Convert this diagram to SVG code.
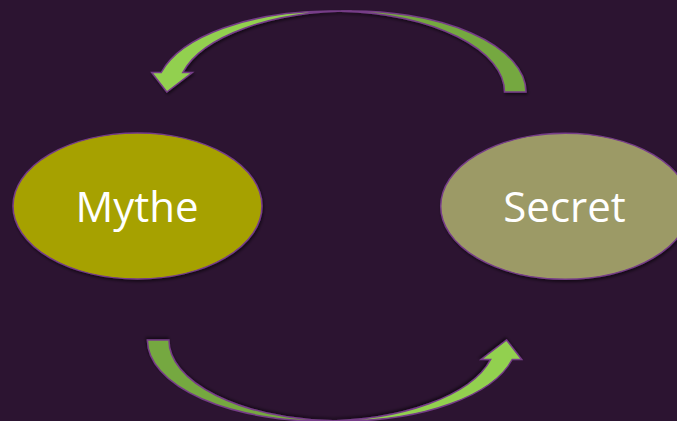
<svg xmlns="http://www.w3.org/2000/svg" xmlns:xlink="http://www.w3.org/1999/xlink" width="677" height="421" viewBox="0 0 677 421">
  <defs>
    <filter id="shadow" x="-10%" y="-10%" width="120%" height="130%">
      <feDropShadow dx="1" dy="2" stdDeviation="1.8" flood-color="#000000" flood-opacity="0.55"/>
    </filter>
    <g id="curved-arrow">
      <path class="arrow-back" d="M 341.05 11.15 A 174.2 81 0 0 1 504.5 92 L 526 92 A 174.2 81 0 0 0 341.05 11.15 Z"/>
      <path class="arrow-front" d="M 166.85 92 L 192.28 72.5 L 182.73 72.5 A 174.2 81 0 0 1 351.8 11 L 330.3 11 A 174.2 81 0 0 0 161.23 72.5 L 151.68 72.5 Z"/>
    </g>
  </defs>
  <style>
    .node-shape { stroke: #763D88; stroke-width: 1.5; filter: url(#shadow); }
    .label { font-family: "Open Sans", "Noto Sans", "Liberation Sans", sans-serif; font-size: 42px; fill: #FFFFFF; text-anchor: middle; }
    .arrow-front { fill: #92D050; stroke: #763D88; stroke-width: 1.5; stroke-linejoin: miter; }
    .arrow-back { fill: #74A83F; stroke: #763D88; stroke-width: 1.5; stroke-linejoin: miter; }
    .arrow { filter: url(#shadow); }
  </style>
  <rect x="0" y="0" width="677" height="421" fill="#2C1431"/>
  <g id="connectors">
    <use id="arrow-secret-to-mythe" class="arrow" xlink:href="#curved-arrow" href="#curved-arrow"/>
    <use id="arrow-mythe-to-secret" class="arrow" xlink:href="#curved-arrow" href="#curved-arrow" transform="translate(673.4 432) scale(-1 -1)"/>
  </g>
  <g id="node-mythe">
    <ellipse class="node-shape" cx="137.5" cy="206" rx="124.5" ry="73" fill="#A6A100"/>
    <text class="label" x="137" y="222">Mythe</text>
  </g>
  <g id="node-secret">
    <ellipse class="node-shape" cx="565.2" cy="206.3" rx="124.5" ry="73" fill="#9C9A66"/>
    <text class="label" x="564.5" y="222">Secret</text>
  </g>
</svg>
